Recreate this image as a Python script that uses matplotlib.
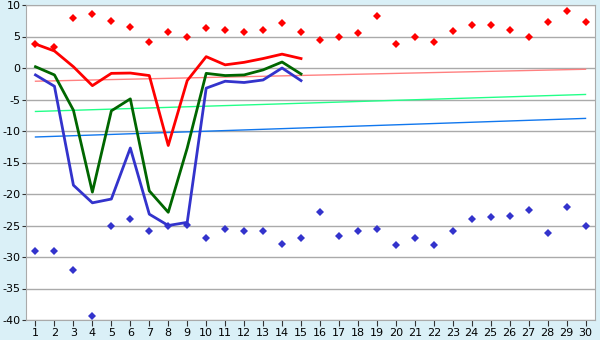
import numpy as np
import matplotlib.pyplot as plt

plt.rcParams['axes.unicode_minus'] = False

days = np.arange(1, 31)

# daily maximum / minimum markers
t_max = [3.8, 3.3, 8.0, 8.5, 7.4, 6.5, 4.1, 5.7, 4.9, 6.3,
         6.0, 5.7, 6.0, 7.1, 5.7, 4.4, 5.0, 5.5, 8.2, 3.8,
         5.0, 4.1, 5.8, 6.8, 6.8, 6.0, 4.9, 7.3, 9.0, 7.3]
t_min = [-29.1, -29.1, -32.1, -39.4, -25.1, -24.0, -25.9, -25.0, -24.9, -27.0,
         -25.5, -25.9, -25.9, -28.0, -27.0, -22.9, -26.7, -25.8, -25.5, -28.1,
         -27.0, -28.1, -25.9, -24.0, -23.7, -23.5, -22.6, -26.2, -22.0, -25.0]

# lines for the first 15 days
line_days = days[:15]
red_line = [3.8, 2.7, 0.2, -2.8, -0.85, -0.8, -1.2, -12.3, -2.0, 1.8,
            0.5, 0.9, 1.5, 2.2, 1.5]
green_line = [0.2, -1.1, -6.7, -19.7, -6.8, -4.9, -19.5, -22.9, -12.7, -0.85,
              -1.2, -1.1, -0.3, 0.95, -0.95]
blue_line = [-1.1, -2.9, -18.6, -21.4, -20.8, -12.7, -23.2, -25.0, -24.5, -3.2,
             -2.1, -2.3, -1.9, 0.0, -2.0]

# trend lines (start at day 1, end at day 30)
trend_days = [1, 30]
red_trend = [-2.1, -0.2]
green_trend = [-6.9, -4.2]
blue_trend = [-10.95, -8.0]

fig = plt.figure(figsize=(6, 3.4), dpi=100, facecolor='#daf0f7')
ax = fig.add_axes([26/600, 20/340, 569/600, 315/340])
ax.set_facecolor('white')

ax.plot(trend_days, red_trend, color='#ff8080', lw=1)
ax.plot(trend_days, green_trend, color='#22ff88', lw=1)
ax.plot(trend_days, blue_trend, color='#1177ee', lw=1)

ax.plot(line_days, red_line, color='#ff0000', lw=2)
ax.plot(line_days, green_line, color='#006600', lw=2)
ax.plot(line_days, blue_line, color='#3333cc', lw=2)

ax.plot(days, t_max, 'D', color='#ff0000', ms=4.5, mew=0, ls='none')
ax.plot(days, t_min, 'D', color='#3333cc', ms=4.5, mew=0, ls='none')

ax.set_xlim(0.5, 30.5)
ax.set_ylim(-40, 10)
ax.set_xticks(days)
ax.set_yticks(np.arange(-40, 11, 5))
ax.yaxis.grid(True, color='#aaaaaa', lw=1)
ax.set_axisbelow(True)
for s in ax.spines.values():
    s.set_color('#aaaaaa')
ax.tick_params(axis='x', length=4, color='#333333', labelsize=8, pad=2)
ax.tick_params(axis='y', length=3, color='#333333', labelsize=8, pad=1)

fig.savefig('out.png', dpi=100, facecolor=fig.get_facecolor())
